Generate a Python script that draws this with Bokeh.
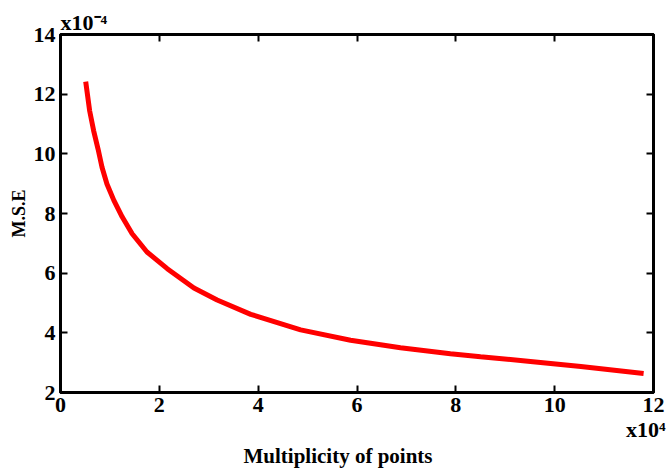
from bokeh.plotting import figure
from bokeh.models import LinearAxis, FixedTicker, Range1d, Title
from bokeh.embed import file_html
from bokeh.resources import INLINE

# Data (x in units of 1e4 points, y in units of 1e-4)
multiplicity = [0.51, 0.59, 0.67, 0.76, 0.84, 0.94, 1.08, 1.25, 1.45, 1.75, 2.16, 2.7,
                3.17, 3.85, 4.86, 5.87, 6.88, 7.89, 8.5, 9.51, 10.53, 11.8]
mse = [12.42, 11.44, 10.78, 10.16, 9.55, 8.99, 8.44, 7.88, 7.32, 6.71, 6.15, 5.5,
       5.1, 4.62, 4.1, 3.75, 3.5, 3.3, 3.2, 3.04, 2.87, 2.64]
x_ticks = [0, 2, 4, 6, 8, 10, 12]
y_ticks = [2, 4, 6, 8, 10, 12, 14]
x_label = "Multiplicity of points"
y_label = "M.S.E"
x_exp = "x10\u2074"
y_exp = "x10\u207b\u2074"

FONT = "Liberation Serif"

p = figure(width=668, height=469, output_backend="svg", toolbar_location=None,
           x_range=Range1d(0, 12), y_range=Range1d(2, 14),
           x_axis_location=None, y_axis_location=None,
           min_border_left=60, min_border_right=15, min_border_top=34, min_border_bottom=77)
p.grid.visible = False
p.outline_line_color = "black"
p.outline_line_width = 3
p.background_fill_color = "white"
p.border_fill_color = "white"

def make_axis(ticks, labels=True):
    ax = LinearAxis(ticker=FixedTicker(ticks=ticks))
    ax.axis_line_width = 3
    ax.axis_line_color = "black"
    ax.major_tick_in = 7
    ax.major_tick_out = 0
    ax.major_tick_line_width = 2
    ax.major_tick_line_color = "black"
    ax.minor_tick_line_color = None
    ax.major_label_text_font = FONT
    ax.major_label_text_font_style = "bold"
    if labels:
        ax.major_label_text_color = "black"
        ax.major_label_text_font_size = "22px"
        ax.major_label_standoff = 5
    else:
        ax.major_label_text_color = None
        ax.major_label_text_font_size = "1px"
        ax.major_label_standoff = 0
    ax.axis_label_text_font = FONT
    ax.axis_label_text_font_style = "bold"
    ax.axis_label_text_color = "black"
    return ax

p.add_layout(make_axis(x_ticks), "below")

yax = make_axis(y_ticks)
yax.axis_label = y_label
yax.axis_label_text_font_size = "18px"
yax.axis_label_standoff = 2
p.add_layout(yax, "left")

# mirrored inward ticks on the top and right edges
p.add_layout(make_axis(x_ticks, labels=False), "above")
p.add_layout(make_axis(y_ticks, labels=False), "right")

def title(text, size, place, align, offset, standoff):
    t = Title(text=text, text_font=FONT, text_font_style="bold", text_font_size=size,
              text_color="black", align=align, offset=offset, standoff=standoff)
    p.add_layout(t, place)

title(y_exp, "22px", "above", "left", 0, 0)
title(x_exp, "22px", "below", "right", -12, 0)
title(x_label, "21px", "below", "left", 183, 0)

p.line(multiplicity, mse, line_color="#ff0000", line_width=5)

open("out.html", "w").write(file_html(p, INLINE))
